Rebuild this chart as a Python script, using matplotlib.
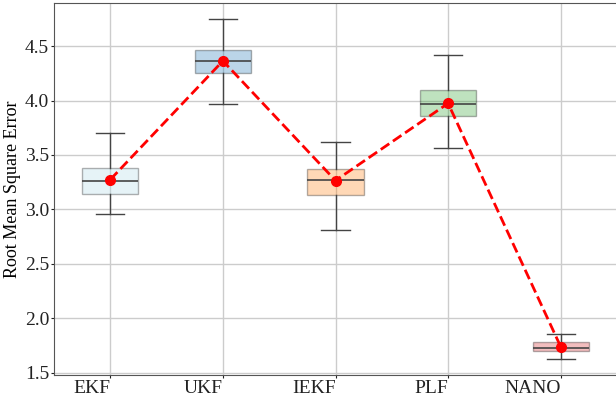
import matplotlib
matplotlib.use("Agg")
import matplotlib.pyplot as plt
import numpy as np

plt.rcParams['font.family'] = ['Liberation Serif', 'DejaVu Serif']

methods = ['EKF', 'UKF', 'IEKF', 'PLF', 'NANO']
whislo = [2.96, 3.97, 2.81, 3.56, 1.63]
q1 = [3.145, 4.25, 3.13, 3.855, 1.703]
med = [3.26, 4.36, 3.27, 3.97, 1.725]
q3 = [3.38, 4.46, 3.373, 4.10, 1.78]
whishi = [3.70, 4.745, 3.62, 4.42, 1.854]
means = [3.274, 4.364, 3.265, 3.974, 1.739]
box_colors = ['lightblue', 'tab:blue', 'tab:orange', 'tab:green', 'tab:red']

stats = []
for i in range(len(methods)):
    stats.append(dict(label=methods[i], whislo=whislo[i], q1=q1[i], med=med[i],
                      q3=q3[i], whishi=whishi[i], fliers=[]))

fig = plt.figure(figsize=(6.16, 4.03), dpi=100)
ax = fig.add_axes([0.0877, 0.0695, 0.9139, 0.9223])
ax.grid(True, color='#cccccc', linewidth=1.0)
ax.set_axisbelow(True)

pos = np.arange(1, len(methods) + 1)
box = ax.bxp(stats, positions=pos, widths=0.5, patch_artist=True, showfliers=False,
             medianprops=dict(color='#444444', linewidth=1.2),
             whiskerprops=dict(color='#444444', linewidth=1.0),
             capprops=dict(color='#444444', linewidth=1.0))
for patch, c in zip(box['boxes'], box_colors):
    patch.set_facecolor(c)
    patch.set_edgecolor('black')
    patch.set_alpha(0.3)

ax.plot(pos, means, 'r--', marker='o', markersize=7, linewidth=2, zorder=5)

ax.set_xlim(0.5, 5.5)
ax.set_ylim(1.479, 4.893)
ax.set_yticks([1.5, 2.0, 2.5, 3.0, 3.5, 4.0, 4.5])
ax.set_xticks(pos)
ax.set_xticklabels(methods, ha='right')
ax.tick_params(labelsize=14, colors='#222222', length=2.5, pad=1)
ax.set_ylabel('Root Mean Square Error', fontsize=13, labelpad=3)
for s in ax.spines.values():
    s.set_color('#555555')

fig.savefig('out.png', dpi=100)
